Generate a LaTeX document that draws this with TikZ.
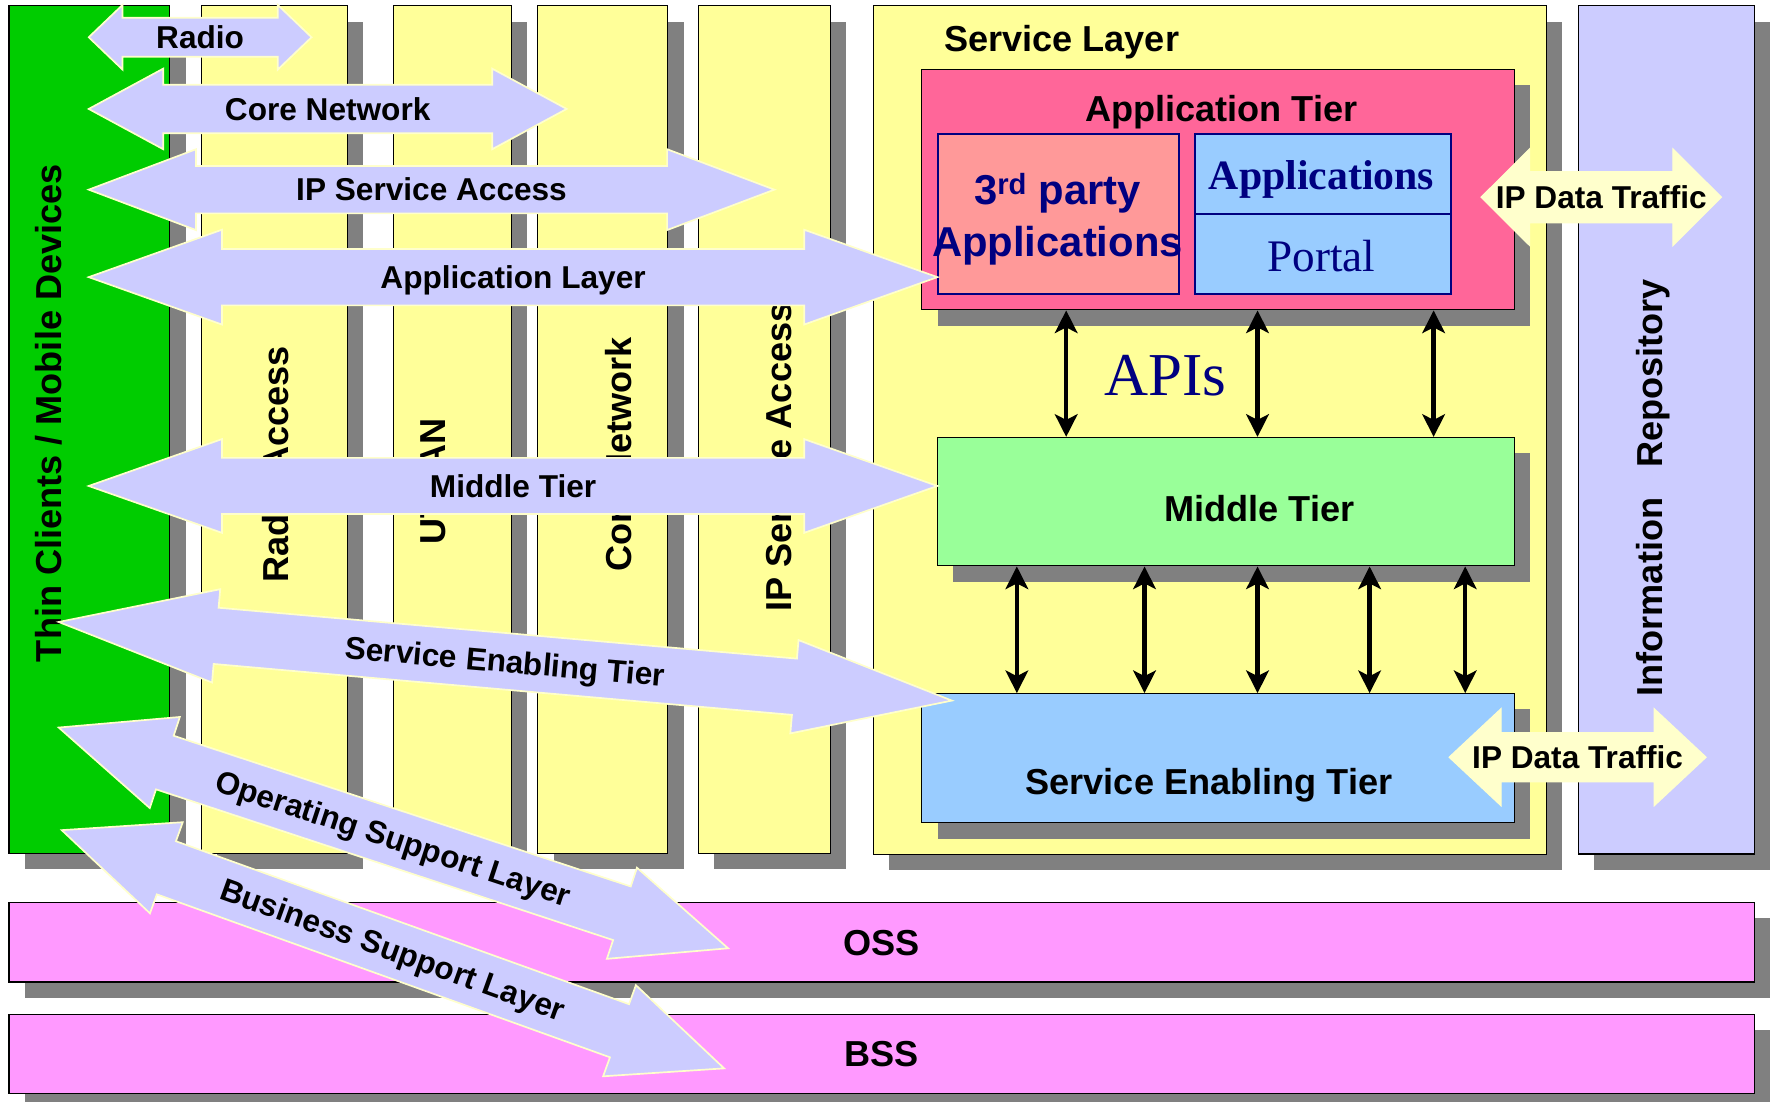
\documentclass[tikz,border=0pt]{standalone}
\usepackage{fontspec}
\setmainfont{Liberation Sans}
\newfontfamily\seriffont{Liberation Serif}
\usepackage{tikz}
\usetikzlibrary{shadows,arrows.meta}

\definecolor{clientgreen}{HTML}{00CC00}
\definecolor{layeryellow}{HTML}{FFFF99}
\definecolor{flowblue}{HTML}{CCCCFF}
\definecolor{flowedge}{HTML}{FFFFCC}
\definecolor{tierpink}{HTML}{FF6699}
\definecolor{partypink}{HTML}{FF9999}
\definecolor{tierblue}{HTML}{99CCFF}
\definecolor{tiergreen}{HTML}{99FF99}
\definecolor{supportpink}{HTML}{FF99FF}
\definecolor{textnavy}{HTML}{000080}

% fat double arrow: style, name, tip, angle, length, shaft, head, head length, text
\newcommand{\fatarrow}[9]{%
  \begin{scope}[shift={#3},rotate=#4]
    \draw[#1] (0,0) -- (#8,#7) -- (#8,#6) -- (#5-#8,#6) -- (#5-#8,#7) -- (#5,0)
      -- (#5-#8,-#7) -- (#5-#8,-#6) -- (#8,-#6) -- (#8,-#7) -- cycle;
    \node[flowlabel,transform shape] (#2) at (#5/2,0) {#9};
  \end{scope}}

\begin{document}
\begin{tikzpicture}[x=1pt,y=-1pt]
	\tikzstyle{box} = [rectangle, draw=black, line width=1pt, inner sep=0pt, anchor=north west, drop shadow={shadow xshift=14pt, shadow yshift=-14pt, fill=black!50, opacity=1}]
	\tikzstyle{inbox} = [rectangle, draw=textnavy, line width=1.8pt, inner sep=0pt, anchor=north west]
	\tikzstyle{flowlabel} = [font=\bfseries\fontsize{28}{30}\selectfont, inner sep=0pt, text height=20pt, text depth=0pt]
	\tikzstyle{collabel} = [rotate=90, font=\bfseries\fontsize{32}{34}\selectfont, inner sep=0pt, text height=23pt, text depth=0pt]
	\tikzstyle{tierlabel} = [font=\bfseries\fontsize{32}{34}\selectfont, inner sep=0pt, text height=23pt, text depth=0pt]
	\tikzstyle{fatflow} = [fill=flowblue, draw=flowedge, line width=1.5pt, line join=miter]
	\tikzstyle{ipflow} = [fill=flowedge, draw=flowedge, line width=1pt]
	\tikzstyle{apiflow} = [line width=4pt, <->, >={Stealth[length=20pt,width=20pt,inset=5pt]}]
\useasboundingbox (0,0) rectangle (1568,975.4);
% columns
\node [box, fill=clientgreen, minimum width=142.5pt, minimum height=751pt] (clients) at (7.5,4.7) {};
\node [box, fill=layeryellow, minimum width=129pt, minimum height=751pt] (radiocol) at (178,4.7) {};
\node [box, fill=layeryellow, minimum width=104.5pt, minimum height=751pt] (utrancol) at (348,4.7) {};
\node [box, fill=layeryellow, minimum width=115pt, minimum height=751pt] (corecol) at (476,4.7) {};
\node [box, fill=layeryellow, minimum width=117pt, minimum height=751pt] (ipsacol) at (618,4.7) {};
\node [collabel] at (43,366) (clientslbl) {Thin Clients / Mobile Devices};
\node [collabel] at (244,411.5) (radiolbl) {Radio Access};
\node [collabel] at (383.5,426.5) (utranlbl) {UTRAN};
\node [collabel] at (548,402.5) (corelbl) {Core Network};
\node [collabel] at (690,405) (ipsalbl) {IP Service Access};
% service layer
\node [box, fill=layeryellow, minimum width=596pt, minimum height=751.5pt] (servicelayer) at (773.3,4.7) {};
\node [tierlabel] at (940.5,34) (servicelbl) {Service Layer};
\node [box, fill=tierpink, minimum width=525pt, minimum height=213pt] (apptier) at (816,61) {};
\node [tierlabel] at (1082,96) (apptierlbl) {Application Tier};
\node [inbox, fill=partypink, minimum width=213.7pt, minimum height=141.5pt] (party) at (830,118) {};
\node [inbox, fill=tierblue, minimum width=227.2pt, minimum height=71pt] (apps) at (1057.5,118) {};
\node [inbox, fill=tierblue, minimum width=227.2pt, minimum height=70.5pt] (portal) at (1057.5,189) {};
\node [align=center, inner sep=0pt, text=textnavy, font=\bfseries\fontsize{37}{46}\selectfont] at (936.8,194) (partylbl) {3\textsuperscript{rd} party\\Applications};
\node [inner sep=0pt, text=textnavy, font=\seriffont\bfseries\fontsize{37}{40}\selectfont, text height=24.5pt, text depth=0pt] at (1170.6,155.4) (appslbl) {Applications};
\node [inner sep=0pt, text=textnavy, font=\seriffont\fontsize{40}{42}\selectfont, text height=26.5pt, text depth=0pt] at (1170.6,227) (portallbl) {Portal};
\node [box, fill=tiergreen, minimum width=511pt, minimum height=113.8pt] (midtier) at (830,387) {};
\node [tierlabel] at (1115.8,450.7) (midtierlbl) {Middle Tier};
\node [box, fill=tierblue, minimum width=525pt, minimum height=114.3pt] (setier) at (816,614) {};
\node [tierlabel] at (1071,692) (setierlbl) {Service Enabling Tier};
\foreach \x in {944.5,1114,1270}
	\draw [apiflow] (\x,0 |- apptier.south) -- (\x,0 |- midtier.north);
\foreach \x in {900.8,1013.9,1114,1213.3,1298}
	\draw [apiflow] (\x,0 |- midtier.south) -- (\x,0 |- setier.north);
\node [inner sep=0pt, text=textnavy, font=\seriffont\fontsize{54}{56}\selectfont, text height=35.7pt, text depth=0pt] at (1032.6,332.5) (apis) {APIs};
% repository and support layers
\node [box, fill=flowblue, minimum width=155.8pt, minimum height=751.3pt] (inforepo) at (1397.8,4.7) {};
\node [collabel] at (1461.5,432) (repolbl) {Information~~~Repository};
\node [box, fill=supportpink, minimum width=1546.1pt, minimum height=70.6pt, font=\bfseries\fontsize{32}{34}\selectfont, text height=23pt, text depth=0pt] (oss) at (7.5,798.8) {OSS};
\node [box, fill=supportpink, minimum width=1546.1pt, minimum height=70.3pt, font=\bfseries\fontsize{32}{34}\selectfont, text height=23pt, text depth=0pt] (bss) at (7.5,898) {BSS};
% flows
\fatarrow{ipflow}{iptop}{(1312,174.7)}{0}{213}{22.7}{42.8}{43}{IP Data Traffic}
\fatarrow{ipflow}{ipbottom}{(1283.7,670.8)}{0}{227.7}{21.8}{43}{46}{IP Data Traffic}
\fatarrow{fatflow}{radioflow}{(78.6,33)}{0}{197.4}{17.3}{28.7}{30}{Radio}
\fatarrow{fatflow}{coreflow}{(78.6,96.5)}{0}{423.4}{21.5}{35.7}{66}{Core Network}
\fatarrow{fatflow}{ipsaflow}{(78.6,168)}{0}{607.4}{21}{35.8}{95}{IP Service Access}
\fatarrow{fatflow}{appflow}{(78.6,245.5)}{0}{751.8}{25}{42}{118}{Application Layer}
\fatarrow{fatflow}{midflow}{(78.6,430.5)}{0}{751.8}{24.9}{41.5}{118}{Middle Tier}
\fatarrow{fatflow}{seflow}{(52,551)}{-5.03}{794.3}{25}{41.5}{140}{Service Enabling Tier}
\fatarrow{fatflow}{ossflow}{(52,644.5)}{-18.25}{624.4}{25}{42.5}{99}{Operating Support Layer}
\fatarrow{fatflow}{bssflow}{(54.7,735.4)}{-19.78}{623.6}{25}{42.9}{98.5}{Business Support Layer}
\end{tikzpicture}
\end{document}
